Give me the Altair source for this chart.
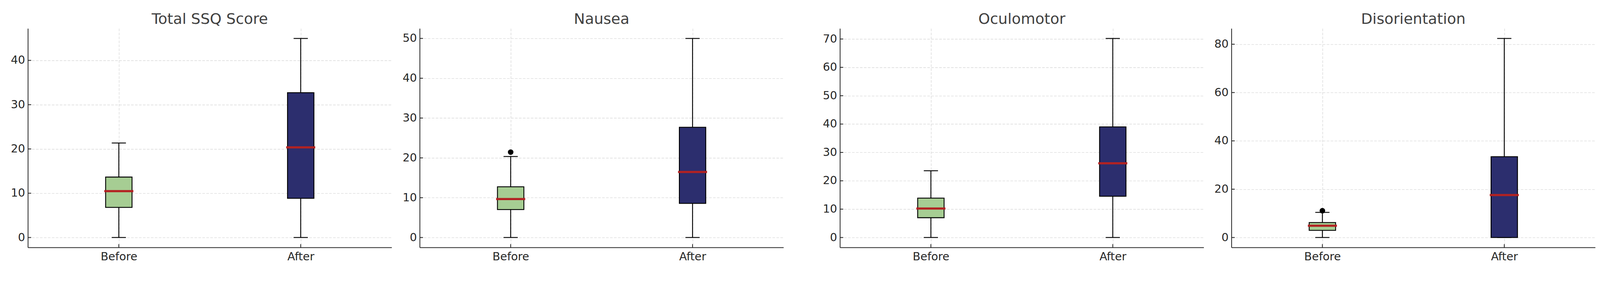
import altair as alt
import pandas as pd

# ---- data ----
panels = ["Total SSQ Score", "Nausea", "Oculomotor", "Disorientation"]
groups = ["Before", "After"]

# five-number summaries: [whisker low, Q1, median, Q3, whisker high]
total_before = [0.0, 6.80, 10.48, 13.65, 21.35]
total_after = [0.0, 8.85, 20.36, 32.71, 44.96]
nausea_before = [0.0, 7.02, 9.65, 12.74, 20.34]
nausea_after = [0.0, 8.56, 16.46, 27.69, 50.00]
oculo_before = [0.0, 6.98, 10.21, 13.90, 23.53]
oculo_after = [0.0, 14.55, 26.17, 39.02, 70.20]
disor_before = [0.0, 2.96, 4.89, 6.20, 10.40]
disor_after = [0.0, 0.0, 17.56, 33.46, 82.40]

# outliers: (panel, group, value)
outlier_panels = ["Nausea", "Disorientation"]
outlier_groups = ["Before", "Before"]
outlier_values = [21.43, 11.08]

# y tick labels per panel
ticks_total = [0, 10, 20, 30, 40]
ticks_nausea = [0, 10, 20, 30, 40, 50]
ticks_oculo = [0, 10, 20, 30, 40, 50, 60, 70]
ticks_disor = [0, 20, 40, 60, 80]

summaries = {
    "Total SSQ Score": (total_before, total_after, ticks_total),
    "Nausea": (nausea_before, nausea_after, ticks_nausea),
    "Oculomotor": (oculo_before, oculo_after, ticks_oculo),
    "Disorientation": (disor_before, disor_after, ticks_disor),
}

GREEN = "#a6cd93"
NAVY = "#2c2e6e"
RED = "#b22222"
DARK = "#262626"
W, H = 1102, 663
FONT = "DejaVu Sans"


def panel(name):
    before, after, ticks = summaries[name]
    rows = []
    for g, s in zip(groups, [before, after]):
        rows.append(dict(group=g, low=s[0], q1=s[1], med=s[2], q3=s[3], high=s[4]))
    df = pd.DataFrame(rows)
    caps = pd.DataFrame(
        [dict(group=r["group"], v=r["low"]) for r in rows]
        + [dict(group=r["group"], v=r["high"]) for r in rows]
    )
    outs = pd.DataFrame(
        [dict(group=g, v=v) for p, g, v in zip(outlier_panels, outlier_groups, outlier_values) if p == name]
    )
    lo = min(min(before), min(after))
    hi = max(max(before), max(after), *([o for o in outs["v"]] if len(outs) else [lo]))
    m = (hi - lo) * 0.05
    yscale = alt.Scale(domain=[lo - m, hi + m], nice=False, zero=False)
    yaxis = alt.Axis(values=ticks, title=None, tickSize=0, labelPadding=9, grid=True)
    xscale = alt.Scale(type="point", domain=groups, padding=0.5)
    xaxis = alt.Axis(title=None, labelAngle=0, tickSize=0, labelPadding=11, grid=True)

    def X(field="group"):
        return alt.X(f"{field}:N", scale=xscale, axis=xaxis, sort=groups)

    def Y(field):
        return alt.Y(f"{field}:Q", scale=yscale, axis=yaxis)

    base = alt.Chart(df)
    whisk = base.mark_rule(color="black", strokeWidth=2.7).encode(x=X(), y=Y("low"), y2="high:Q")
    capm = alt.Chart(caps).mark_tick(color="black", size=43, thickness=2.7, opacity=1).encode(x=X(), y=Y("v"))
    box = base.mark_bar(size=80, stroke="black", strokeWidth=2.7, opacity=1).encode(
        x=X(), y=Y("q1"), y2="q3:Q",
        color=alt.Color("group:N", scale=alt.Scale(domain=groups, range=[GREEN, NAVY]), legend=None),
    )
    medm = base.mark_tick(color=RED, size=88, thickness=6.5, opacity=1).encode(x=X(), y=Y("med"))
    layers = [whisk, capm, box, medm]
    if len(outs):
        layers.append(
            alt.Chart(outs).mark_circle(size=280, color="black", opacity=1).encode(x=X(), y=Y("v"))
        )
    # inward tick marks
    tdf = pd.DataFrame({"t": ticks})
    ytick = alt.Chart(tdf).mark_rule(color=DARK, strokeWidth=2.4).encode(
        y=Y("t"), x=alt.value(0), x2=alt.value(10)
    )
    xtick = alt.Chart(pd.DataFrame({"group": groups})).mark_rule(color=DARK, strokeWidth=2.4).encode(
        x=X(), y=alt.value(H), y2=alt.value(H - 10)
    )
    layers += [ytick, xtick]
    return alt.layer(*layers).properties(width=W, height=H, title=name)


p1, p2, p3, p4 = [panel(n) for n in panels]

chart = (
    alt.hconcat(
        alt.hconcat(p1, p2, spacing=32),
        alt.hconcat(p3, p4, spacing=31),
        spacing=118,
    )
    .properties(padding={"left": 22, "top": -38, "right": 5, "bottom": -14}, background="white")
    .configure_view(stroke=None)
    .configure_axis(
        labelFont=FONT,
        labelFontSize=34,
        labelColor=DARK,
        domainColor=DARK,
        domainWidth=2.4,
        gridColor="#d9d9d9",
        gridDash=[8, 4],
        gridWidth=1.6,
    )
    .configure_title(
        font=FONT,
        fontSize=45,
        fontWeight="normal",
        color="#404040",
        anchor="middle",
        offset=5,
    )
)

chart.save("out.html", embed_options={"renderer": "svg", "actions": False})
